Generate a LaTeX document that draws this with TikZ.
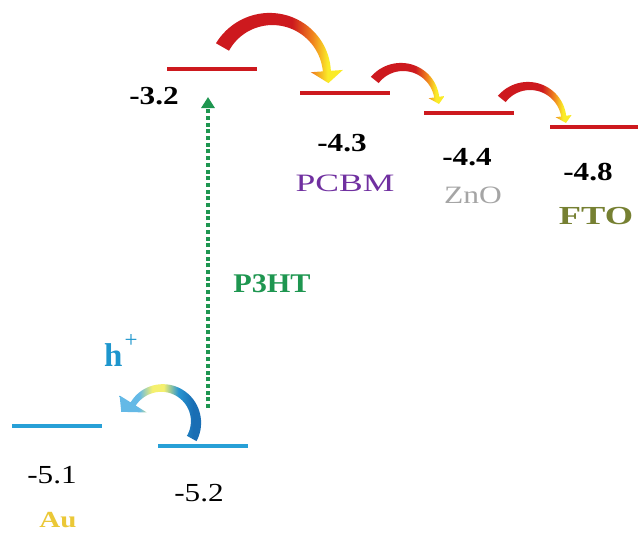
\documentclass[tikz,border=0pt]{standalone}
\usepackage{fontspec}
\setmainfont{Liberation Serif}
\usetikzlibrary{arrows.meta}
\definecolor{lvred}{RGB}{205,25,30}
\definecolor{lvorange}{RGB}{240,130,30}
\definecolor{lvyellow}{RGB}{250,235,40}
\definecolor{lvblue}{RGB}{40,160,215}
\definecolor{hdeep}{RGB}{25,110,180}
\definecolor{hmid}{RGB}{40,150,210}
\definecolor{hlight}{RGB}{100,185,230}
\definecolor{hyellow}{RGB}{245,240,110}
\definecolor{pgreen}{RGB}{30,150,80}
\definecolor{pcbmc}{RGB}{112,48,160}
\definecolor{znoc}{RGB}{165,165,165}
\definecolor{ftoc}{RGB}{118,128,50}
\definecolor{auc}{RGB}{235,200,55}
\definecolor{hplus}{RGB}{30,150,205}
\pgfdeclarehorizontalshading{redyel}{100bp}{color(0bp)=(lvred); color(55bp)=(lvred); color(63bp)=(lvorange); color(69bp)=(lvyellow); color(100bp)=(lvyellow)}
\pgfdeclarehorizontalshading{blueyel}{100bp}{color(0bp)=(hlight); color(37bp)=(hlight); color(45bp)=(hyellow); color(52bp)=(hyellow); color(61bp)=(hmid); color(70bp)=(hdeep); color(100bp)=(hdeep)}
% #1 style, #2 radius, #3 start angle, #4 end angle, #5 start width, #6 end width, #7 head width, #8 tip angle, #9 tip radius
\newcommand{\fatarc}[9]{%
 \shade[#1] plot[variable=\s,domain=0:1,samples=40,smooth] ({((#2)+((#5)+((#6)-(#5))*\s)/2)*cos((#3)+((#4)-(#3))*\s)},{((#2)+((#5)+((#6)-(#5))*\s)/2)*sin((#3)+((#4)-(#3))*\s)})
 -- ({#4}:{(#2)+(#7)/2})
 -- ({#8}:{#9})
 -- ({#4}:{(#2)-(#7)/2})
 -- plot[variable=\s,domain=0:1,samples=40,smooth] ({((#2)-((#6)+((#5)-(#6))*\s)/2)*cos((#4)+((#3)-(#4))*\s)},{((#2)-((#6)+((#5)-(#6))*\s)/2)*sin((#4)+((#3)-(#4))*\s)})
 -- cycle;}
\tikzset{
 level/.style={line width=4.5pt},
 redlevel/.style={level, draw=lvred},
 bluelevel/.style={level, draw=lvblue},
 numlbl/.style={inner sep=0pt, font=\fontsize{26}{30}\selectfont, xscale=1.2},
 numbold/.style={inner sep=0pt, font=\fontsize{26}{30}\selectfont\bfseries, xscale=1.2},
 matlbl/.style={inner sep=0pt, font=\fontsize{25}{30}\selectfont},
 matbold/.style={inner sep=0pt, font=\fontsize{26}{30}\selectfont\bfseries},
 redarrow/.style={shading=redyel},
 bluearrow/.style={shading=blueyel},
 dotarrow/.style={draw=pgreen, line width=4pt, dash pattern=on 4pt off 2.7pt, -{Triangle[width=13pt,length=11pt]}}
}
\begin{document}
\begin{tikzpicture}[x=1pt,y=-1pt]
\useasboundingbox[fill=white] (0,0) rectangle (638,538);
% energy levels
\draw[redlevel] (167,69) -- (257,69);
\draw[redlevel] (300,93) -- (390,93);
\draw[redlevel] (424,113) -- (514,113);
\draw[redlevel] (550,127) -- (638,127);
\draw[bluelevel] (12,426) -- (102,426);
\draw[bluelevel] (158,446) -- (248,446);
% fat curved arrows
\begin{scope}[shift={(271,75)}]
 \fatarc{redarrow}{56}{-150}{-4}{15}{8}{32}{8}{58}
\end{scope}
\begin{scope}[shift={(402,102)}]
 \fatarc{redarrow}{35}{-141}{-8}{10}{5}{16}{3}{37}
\end{scope}
\begin{scope}[shift={(529,121)}]
 \fatarc{redarrow}{35}{-141}{-8}{10}{5}{16}{3}{37}
\end{scope}
\begin{scope}[shift={(162,422)}]
 \fatarc{bluearrow}{34}{29}{-148}{11}{6}{32}{-166}{42}
\end{scope}
% dotted excitation arrow
\coordinate (vbot) at (208,408);
\coordinate (vtop) at (208,97);
\draw[dotarrow] (vbot) -- (vtop);
% labels
\node[numbold] (v32) at (154,96) {-3.2};
\node[numbold] (v43) at (342,143) {-4.3};
\node[matlbl, text=pcbmc, xscale=1.42] (pcbm) at (345,183) {PCBM};
\node[numbold] (v44) at (467,157) {-4.4};
\node[matlbl, text=znoc, xscale=1.26] (zno) at (473,195) {ZnO};
\node[numbold] (v48) at (588,172) {-4.8};
\node[matbold, text=ftoc, xscale=1.4] (fto) at (596,216) {FTO};
\node[numlbl] (v51) at (52,475) {-5.1};
\node[matbold, text=auc, font=\fontsize{23}{26}\selectfont\bfseries, xscale=1.26] (au) at (58,520) {Au};
\node[numlbl] (v52) at (199,493) {-5.2};
\node[matbold, text=pgreen, font=\fontsize{27}{30}\selectfont\bfseries, xscale=1.12] (p3ht) at (272,284) {P3HT};
\node[anchor=base west, inner sep=0pt, text=hplus, font=\fontsize{33}{36}\selectfont\bfseries] (hp) at (104,366) {h\kern2pt\raisebox{19pt}{\fontsize{23}{23}\selectfont\mdseries +}};
\end{tikzpicture}
\end{document}
